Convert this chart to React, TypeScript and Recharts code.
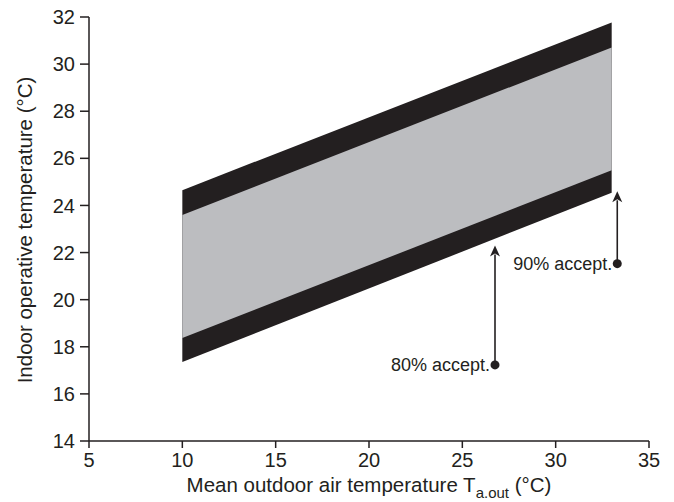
import React from 'react';
import { ComposedChart, Area, XAxis, YAxis, ReferenceLine, ReferenceDot, Label } from 'recharts';

const xTicks = [5, 10, 15, 20, 25, 30, 35];
const yTicks = [14, 16, 18, 20, 22, 24, 26, 28, 30, 32];

// band end points (outdoor temperature)
const bandX = [10, 33];
const outerLow = [17.35, 24.54];
const outerHigh = [24.65, 31.77];
const innerLow = [18.37, 25.49];
const innerHigh = [23.59, 30.71];

// annotations
const annotLabels = ['80% accept.', '90% accept.'];
const annotX = [26.75, 33.3];
const annotDotY = [17.23, 21.53];
const annotTipY = [22.3, 24.6];

const data = bandX.map((x, i) => ({
  x,
  outer: [outerLow[i], outerHigh[i]],
  inner: [innerLow[i], innerHigh[i]],
}));

const INK = '#231f20';
const GRAY = '#bcbdc0';
const FONT = '"Liberation Sans", Arial, Helvetica, sans-serif';

const makeArrow = (label: string) => (p: any) => {
  const { x1, y1, x2, y2 } = p;
  const headH = 11;
  const headW = 5;
  return (
    <g>
      <line x1={x1} y1={y1} x2={x2} y2={y2 + headH - 2} stroke={INK} strokeWidth={1.6} />
      <polygon
        points={`${x2},${y2} ${x2 - headW},${y2 + headH} ${x2},${y2 + headH - 3} ${x2 + headW},${y2 + headH}`}
        fill={INK}
      />
      <text x={x1 - 5} y={y1 + 6} textAnchor="end" fontSize={18} fontFamily={FONT} fill={INK}>
        {label}
      </text>
    </g>
  );
};

export default function App() {
  return (
    <div style={{ position: 'absolute', left: 0, top: 0, background: '#fff' }}>
      <ComposedChart
        width={674}
        height={502}
        data={data}
        margin={{ top: 17, right: 25, bottom: 21, left: 29 }}
      >
        <XAxis
          dataKey="x"
          type="number"
          domain={[5, 35]}
          ticks={xTicks}
          interval={0}
          tickSize={7}
          tickMargin={5}
          height={40}
          stroke={INK}
          strokeWidth={1.5}
          tick={{ fill: INK, fontSize: 20, fontFamily: FONT }}
          tickLine={{ stroke: INK, strokeWidth: 1.5 }}
          label={
            <Label
              content={() => (
                <text x={369} y={492} textAnchor="middle" fontSize={20.5} fontFamily={FONT} fill={INK}>
                  Mean outdoor air temperature T
                  <tspan dy={6} fontSize={15}>a.out</tspan>
                  <tspan dy={-6}> (°C)</tspan>
                </text>
              )}
            />
          }
        />
        <YAxis
          type="number"
          domain={[14, 32]}
          ticks={yTicks}
          interval={0}
          width={60}
          tickSize={9}
          tickMargin={5}
          stroke={INK}
          strokeWidth={1.5}
          tick={{ fill: INK, fontSize: 20, fontFamily: FONT }}
          tickLine={{ stroke: INK, strokeWidth: 1.5 }}
          label={
            <Label
              content={() => (
                <text
                  x={32}
                  y={230}
                  textAnchor="middle"
                  fontSize={20.5}
                  fontFamily={FONT}
                  fill={INK}
                  transform="rotate(-90, 32, 230)"
                >
                  Indoor operative temperature (°C)
                </text>
              )}
            />
          }
        />
        <Area
          type="linear"
          dataKey="outer"
          fill={INK}
          fillOpacity={1}
          stroke="none"
          isAnimationActive={false}
          dot={false}
          activeDot={false}
        />
        <Area
          type="linear"
          dataKey="inner"
          fill={GRAY}
          fillOpacity={1}
          stroke="none"
          isAnimationActive={false}
          dot={false}
          activeDot={false}
        />
        {annotLabels.map((lab, i) => (
          <ReferenceLine
            key={`l${i}`}
            segment={[
              { x: annotX[i], y: annotDotY[i] },
              { x: annotX[i], y: annotTipY[i] },
            ]}
            shape={makeArrow(lab)}
          />
        ))}
        {annotLabels.map((lab, i) => (
          <ReferenceDot
            key={`d${i}`}
            x={annotX[i]}
            y={annotDotY[i]}
            r={4.5}
            fill={INK}
            stroke="none"
          />
        ))}
      </ComposedChart>
    </div>
  );
}
